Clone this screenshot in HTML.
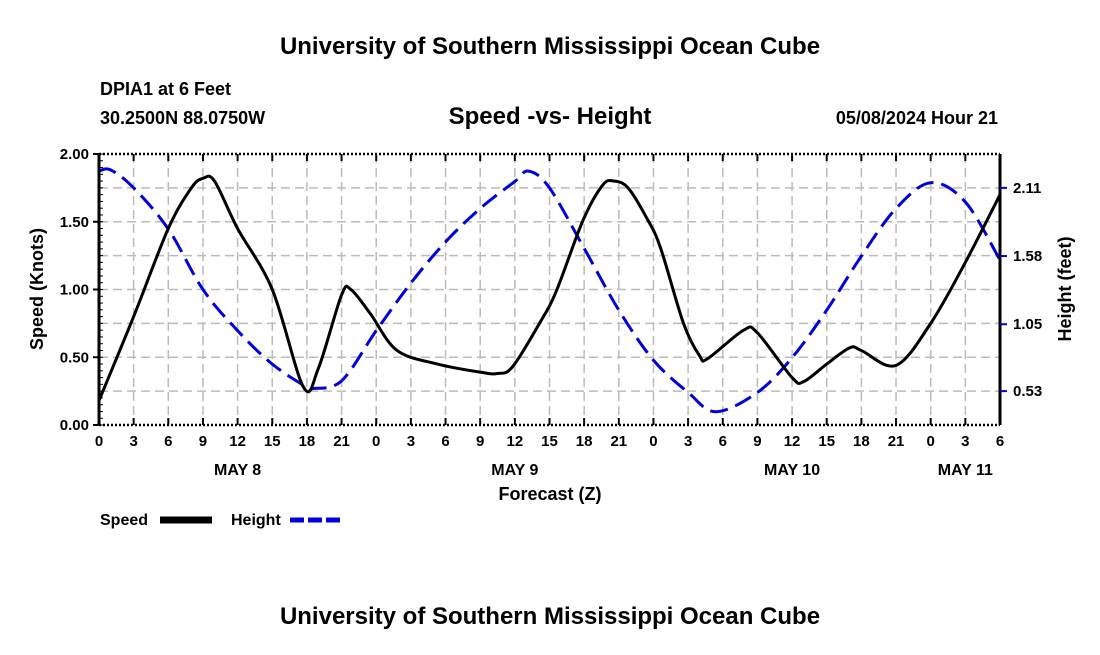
<!DOCTYPE html>
<html><head><meta charset="utf-8"><style>
body{margin:0;background:#fff;}
svg text{font-family:"Liberation Sans",sans-serif;font-weight:bold;fill:#000;}
</style></head><body>
<svg id="c" width="1100" height="650" xmlns="http://www.w3.org/2000/svg">
<text x="550" y="54" font-size="24" text-anchor="middle">University of Southern Mississippi Ocean Cube</text>
<text x="100" y="95" font-size="18">DPIA1 at 6 Feet</text>
<text x="100" y="124" font-size="18">30.2500N  88.0750W</text>
<text x="550" y="124" font-size="24" text-anchor="middle">Speed -vs- Height</text>
<text x="998" y="124" font-size="18" text-anchor="end">05/08/2024 Hour 21</text>
<text x="550" y="624" font-size="24" text-anchor="middle">University of Southern Mississippi Ocean Cube</text>
<g id="grid"></g><g id="series"></g><g id="axes"></g>
<text x="550" y="500" font-size="18" text-anchor="middle">Forecast (Z)</text>
<text transform="translate(43,289) rotate(-90)" font-size="18" text-anchor="middle">Speed (Knots)</text>
<text transform="translate(1071,289) rotate(-90)" font-size="18" text-anchor="middle">Height (feet)</text>
<g>
<text x="100" y="525" font-size="16">Speed</text>
<line x1="160" y1="520" x2="212" y2="520" stroke="#000" stroke-width="7"/>
<text x="231" y="525" font-size="16">Height</text>
<line x1="290" y1="520" x2="342" y2="520" stroke="#0000dd" stroke-width="5" stroke-dasharray="14,4"/>
</g>
</svg>
<script>
const speedHours=[0,3,6,8,9,10,12,15,17.7,19,21,21.8,23.5,25.8,29.3,33,34.5,35.8,38.2,39.6,41.9,43.6,44.6,45.8,47.4,48.6,50.6,52,52.7,55.8,57,60,61,63,65,66,69,72,75,78];
const speedVals=[0.18,0.80,1.45,1.75,1.82,1.80,1.45,1.00,0.28,0.42,0.96,1.00,0.82,0.55,0.45,0.39,0.38,0.43,0.76,0.99,1.51,1.77,1.80,1.75,1.53,1.31,0.75,0.51,0.49,0.70,0.68,0.35,0.32,0.45,0.57,0.55,0.44,0.75,1.20,1.70];
const heightHours=[0,1,3,6,9,12,15,18,18.5,21,24,27,30,33,36,37.2,39,42,45,48,51,53.4,57,60,63,66,69,72,75,78];
const heightVals=[2.24,2.25,2.11,1.79,1.32,1.00,0.74,0.56,0.55,0.61,1.00,1.37,1.69,1.95,2.16,2.24,2.11,1.64,1.16,0.77,0.52,0.37,0.52,0.79,1.16,1.58,1.95,2.15,2.00,1.55];
const xTickLabels=["0","3","6","9","12","15","18","21","0","3","6","9","12","15","18","21","0","3","6","9","12","15","18","21","0","3","6"];
const dayLabels=["MAY 8","MAY 9","MAY 10","MAY 11"];
const dayHours=[12,36,60,75];
const yTickLabels=["0.00","0.50","1.00","1.50","2.00"];
const y2TickLabels=["0.53","1.05","1.58","2.11"];
const L=99,R=1000,T=154,B=425,H0=0,H1=78;
const NS='http://www.w3.org/2000/svg';
function x(h){return L+(h-H0)/(H1-H0)*(R-L);}
function y(s){return B-s/2*(B-T);}
function y2(h){return y(0.25+(h-0.53)/((2.11-0.53)/1.5));}
function mk(tag,attrs,parent,text){const e=document.createElementNS(NS,tag);for(const k in attrs)e.setAttribute(k,attrs[k]);if(text!==undefined)e.textContent=text;document.getElementById(parent).appendChild(e);return e;}
function path(hs,vs,yf){const p=hs.map((h,i)=>[x(h),yf(vs[i])]);let d='M'+p[0][0]+','+p[0][1];for(let i=0;i<p.length-1;i++){const p0=p[Math.max(0,i-1)],p1=p[i],p2=p[i+1],p3=p[Math.min(p.length-1,i+2)];d+=' C'+(p1[0]+(p2[0]-p0[0])/6)+','+(p1[1]+(p2[1]-p0[1])/6)+' '+(p2[0]-(p3[0]-p1[0])/6)+','+(p2[1]-(p3[1]-p1[1])/6)+' '+p2[0]+','+p2[1];}return d;}
for(let i=1;i<8;i++){const e=mk('line',{x1:L,x2:R,y1:y(i*0.25),y2:y(i*0.25),stroke:'#bbb','stroke-width':1.5,'stroke-dasharray':'9,5'},'grid');

}
for(let i=1;i<xTickLabels.length-1;i++){const e=mk('line',{x1:x(i*3),x2:x(i*3),y1:T,y2:B,stroke:'#bbb','stroke-width':1.5,'stroke-dasharray':'9,5'},'grid');

}
const hp=mk('path',{d:path(heightHours,heightVals,y2),fill:'none',stroke:'#0000dd','stroke-width':3,'stroke-dasharray':'18,8'},'series');


const sp=mk('path',{d:path(speedHours,speedVals,y),fill:'none',stroke:'#000','stroke-width':3},'series');


for(const xx of [L,R]){const e=mk('line',{x1:xx,x2:xx,y1:T,y2:B,stroke:'#000','stroke-width':3},'axes');

}
for(const yy of [T,B]){const e=mk('line',{x1:L,x2:R,y1:yy,y2:yy,stroke:'#000','stroke-width':2.5,'stroke-dasharray':'2,2'},'axes');

}
xTickLabels.forEach((t,i)=>{const xx=x(i*3);
const tk=mk('line',{x1:xx,x2:xx,y1:B,y2:B-7,stroke:'#000','stroke-width':2},'axes');


const tk2=mk('line',{x1:xx,x2:xx,y1:T,y2:T+7,stroke:'#000','stroke-width':2},'axes');


const e=mk('text',{x:xx,y:B+21,'font-size':15,'text-anchor':'middle'},'axes',t);

});
dayLabels.forEach((t,i)=>{const e=mk('text',{x:x(dayHours[i]),y:B+50,'font-size':16,'text-anchor':'middle'},'axes',t);

});
yTickLabels.forEach((t,i)=>{const yy=y(parseFloat(t));
const tk=mk('line',{x1:L-6,x2:L,y1:yy,y2:yy,stroke:'#000','stroke-width':2},'axes');


const e=mk('text',{x:L-10,y:yy+5,'font-size':15,'text-anchor':'end'},'axes',t);

});
for(let s=0;s<=2.001;s+=0.05){const e=mk('line',{x1:L,x2:L+4,y1:y(s),y2:y(s),stroke:'#000','stroke-width':1},'axes');

}
y2TickLabels.forEach(t=>{const yy=y2(parseFloat(t));
const tk=mk('line',{x1:R,x2:R+7,y1:yy,y2:yy,stroke:'#0000dd','stroke-width':2},'axes');


const e=mk('text',{x:R+13,y:yy+5,'font-size':15},'axes',t);

});
</script>
</body></html>
